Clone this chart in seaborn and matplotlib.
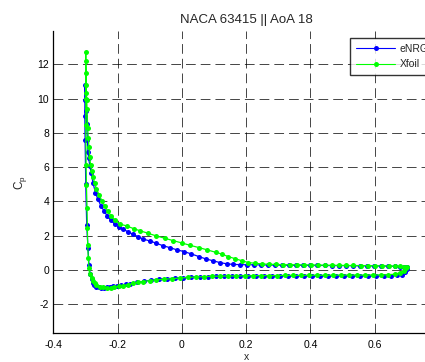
import numpy as np
import pandas as pd
import matplotlib
matplotlib.use("Agg")
import matplotlib.pyplot as plt
import seaborn as sns

# Pressure distribution, NACA 63415 at 18 deg; plotted as -Cp (suction up)
# eNRG solution: suction side (leading edge -> trailing edge)
enrg_up_x = [-0.301, -0.300, -0.298, -0.296, -0.294, -0.292, -0.290, -0.286, -0.282,
             -0.276, -0.269, -0.261, -0.252, -0.242, -0.232, -0.221, -0.209, -0.196,
             -0.183, -0.167, -0.152, -0.136, -0.121, -0.100, -0.079, -0.060, -0.037,
             -0.015, 0.007, 0.030, 0.053, 0.075, 0.098, 0.118, 0.139, 0.160, 0.181,
             0.202, 0.224, 0.246, 0.268, 0.290, 0.312, 0.334, 0.356, 0.378, 0.400,
             0.422, 0.444, 0.466, 0.488, 0.510, 0.532, 0.554, 0.576, 0.598, 0.620,
             0.642, 0.662, 0.680, 0.692, 0.700]
enrg_up_y = [10.80, 9.90, 9.30, 8.50, 7.60, 6.90, 6.52, 6.05, 5.64,
             5.06, 4.51, 4.12, 3.75, 3.44, 3.15, 2.90, 2.68, 2.50,
             2.38, 2.22, 2.08, 1.94, 1.81, 1.69, 1.56, 1.42, 1.30,
             1.17, 1.07, 0.93, 0.78, 0.64, 0.53, 0.43, 0.36, 0.32, 0.31,
             0.30, 0.30, 0.29, 0.29, 0.28, 0.28, 0.27, 0.27, 0.27, 0.26,
             0.26, 0.26, 0.25, 0.25, 0.25, 0.24, 0.24, 0.24, 0.23, 0.23,
             0.22, 0.21, 0.20, 0.19, 0.18]
# eNRG solution: pressure side (leading edge -> trailing edge)
enrg_lo_x = [-0.302, -0.301, -0.299, -0.296, -0.292, -0.289, -0.285, -0.281, -0.277,
             -0.272, -0.266, -0.259, -0.251, -0.243, -0.234, -0.224, -0.213, -0.201,
             -0.188, -0.175, -0.160, -0.140, -0.118, -0.095, -0.071, -0.046, -0.021,
             0.005, 0.030, 0.055, 0.080, 0.105, 0.130, 0.155, 0.180, 0.205, 0.230,
             0.255, 0.280, 0.305, 0.330, 0.355, 0.380, 0.405, 0.430, 0.455, 0.480,
             0.505, 0.530, 0.555, 0.580, 0.605, 0.630, 0.652, 0.670, 0.684, 0.694,
             0.700]
enrg_lo_y = [9.00, 7.60, 5.00, 2.62, 1.27, 0.29, -0.23, -0.55, -0.75,
             -0.88, -0.97, -1.02, -1.04, -1.04, -1.02, -0.99, -0.96, -0.93,
             -0.89, -0.85, -0.80, -0.73, -0.66, -0.60, -0.55, -0.51, -0.48,
             -0.45, -0.42, -0.40, -0.39, -0.38, -0.37, -0.37, -0.36, -0.36, -0.36,
             -0.35, -0.35, -0.35, -0.35, -0.35, -0.35, -0.35, -0.35, -0.35, -0.35,
             -0.35, -0.35, -0.35, -0.35, -0.35, -0.35, -0.34, -0.32, -0.27, -0.15,
             0.05]

# Xfoil solution: suction side (leading edge -> trailing edge)
xfoil_up_x = [-0.299, -0.299, -0.298, -0.298, -0.297, -0.296, -0.295, -0.293, -0.291,
              -0.289, -0.287, -0.284, -0.280, -0.276, -0.271, -0.266, -0.258, -0.249,
              -0.240, -0.230, -0.219, -0.207, -0.193, -0.172, -0.150, -0.129, -0.105,
              -0.079, -0.053, -0.027, -0.001, 0.025, 0.054, 0.079, 0.105, 0.124, 0.144,
              0.165, 0.186, 0.207, 0.228, 0.248, 0.270, 0.292, 0.314, 0.336, 0.358,
              0.380, 0.402, 0.424, 0.446, 0.468, 0.490, 0.512, 0.534, 0.556, 0.578,
              0.600, 0.622, 0.644, 0.664, 0.680, 0.692, 0.700]
xfoil_up_y = [12.74, 12.21, 11.47, 10.79, 10.34, 9.92, 9.40, 8.30, 7.68,
              7.16, 6.61, 6.13, 5.75, 5.40, 5.05, 4.75, 4.40, 4.05,
              3.74, 3.42, 3.13, 2.90, 2.68, 2.57, 2.41, 2.28, 2.14,
              1.98, 1.85, 1.71, 1.58, 1.44, 1.30, 1.17, 1.03, 0.93, 0.78,
              0.66, 0.54, 0.43, 0.39, 0.35, 0.33, 0.32, 0.31, 0.30, 0.30,
              0.29, 0.29, 0.28, 0.28, 0.27, 0.27, 0.26, 0.26, 0.25, 0.25,
              0.24, 0.24, 0.23, 0.22, 0.21, 0.20, 0.19]
# Xfoil solution: pressure side (leading edge -> trailing edge)
xfoil_lo_x = [-0.299, -0.299, -0.298, -0.297, -0.295, -0.294, -0.293, -0.291, -0.289,
              -0.287, -0.281, -0.276, -0.271, -0.266, -0.256, -0.245, -0.234, -0.222,
              -0.210, -0.197, -0.183, -0.168, -0.152, -0.136, -0.120, -0.100, -0.079,
              -0.055, -0.030, -0.005, 0.020, 0.045, 0.070, 0.095, 0.120, 0.145, 0.170,
              0.195, 0.220, 0.245, 0.270, 0.295, 0.320, 0.345, 0.370, 0.395, 0.420,
              0.445, 0.470, 0.495, 0.520, 0.545, 0.570, 0.595, 0.620, 0.642, 0.662,
              0.678, 0.690, 0.698]
xfoil_lo_y = [9.96, 8.46, 6.13, 4.96, 3.60, 2.43, 1.46, 0.68, 0.10,
              -0.25, -0.45, -0.62, -0.78, -0.88, -0.97, -1.02, -1.04, -1.03,
              -1.00, -0.96, -0.91, -0.86, -0.79, -0.73, -0.68, -0.62, -0.58,
              -0.54, -0.51, -0.47, -0.44, -0.41, -0.39, -0.37, -0.36, -0.35, -0.35,
              -0.34, -0.34, -0.33, -0.33, -0.33, -0.32, -0.32, -0.32, -0.31, -0.31,
              -0.31, -0.31, -0.30, -0.30, -0.30, -0.30, -0.30, -0.29, -0.28, -0.25,
              -0.17, -0.05, 0.12]

title_text = "NACA 63415 || AoA 18"
x_ticks = [-0.4, -0.2, 0, 0.2, 0.4, 0.6, 0.8]
x_tick_labels = ["-0.4", "-0.2", "0", "0.2", "0.4", "0.6", ""]
y_ticks = [-2, 0, 2, 4, 6, 8, 10, 12]

sns.set_style("white")
plt.rcParams["font.family"] = ["Liberation Sans", "DejaVu Sans"]
plt.rcParams["lines.scale_dashes"] = False


def closed_loop(up_x, up_y, lo_x, lo_y, name):
    # trailing edge -> leading edge along suction side, then back along pressure side
    xs = list(reversed(up_x)) + list(lo_x)
    ys = list(reversed(up_y)) + list(lo_y)
    return pd.DataFrame({"x": xs, "cp": ys, "source": name, "order": range(len(xs))})


df_enrg = closed_loop(enrg_up_x, enrg_up_y, enrg_lo_x, enrg_lo_y, "eNRG")
df_xfoil = closed_loop(xfoil_up_x, xfoil_up_y, xfoil_lo_x, xfoil_lo_y, "Xfoil")

fig = plt.figure(figsize=(4.25, 3.62), dpi=100)
ax = fig.add_axes([0.1254, 0.0793, 0.9075, 0.835])

for data, color in [(df_enrg, (0, 0, 1)), (df_xfoil, (0, 1, 0))]:
    sns.lineplot(data=data, x="x", y="cp", sort=False, estimator=None,
                 ax=ax, color=color, linewidth=0.9, marker="o", markersize=3.6,
                 markeredgewidth=0, label=data["source"].iloc[0], zorder=3)

ax.set_xlim(-0.4, 0.8)
ax.set_ylim(-3.7, 13.95)
ax.set_xticks(x_ticks)
ax.set_xticklabels(x_tick_labels)
ax.set_yticks(y_ticks)
ax.set_yticklabels([str(v) for v in y_ticks])
ax.tick_params(axis="both", direction="in", length=3, width=0.6, color="black",
               labelsize=7.5, labelcolor="black")
ax.tick_params(axis="x", pad=5)
ax.tick_params(axis="y", pad=3)
ax.grid(True, color="black", linestyle=(0, (7, 3.6)), linewidth=0.6, alpha=0.85)
for side in ["top", "right"]:
    ax.spines[side].set_visible(False)
for side in ["left", "bottom"]:
    ax.spines[side].set_color("black")
    ax.spines[side].set_linewidth(0.9)

ax.set_title(title_text, fontsize=9.5, pad=6)
ax.set_xlabel("x", fontsize=7.5, labelpad=1)
ax.set_ylabel(r"C$_\mathregular{p}$", fontsize=8.5, labelpad=6)

leg = ax.legend(loc="upper left", bbox_to_anchor=(350 / 425, 1 - 38 / 362),
                bbox_transform=fig.transFigure, fontsize=7.5, frameon=True,
                fancybox=False, borderaxespad=0, handlelength=3.8,
                borderpad=0.55, labelspacing=0.55, handletextpad=0.4)
leg.get_frame().set_edgecolor("black")
leg.get_frame().set_linewidth(1.0)
for line in leg.get_lines():
    line.set_linewidth(0.8)
    line.set_markersize(3.6)

fig.savefig("out.png", dpi=100)
